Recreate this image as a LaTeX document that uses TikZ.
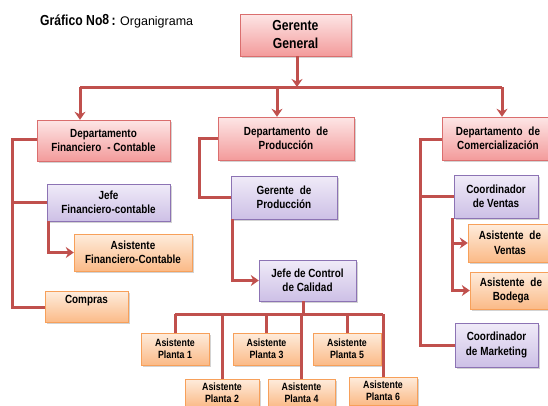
\documentclass[tikz,border=0pt]{standalone}
\usepackage{fontspec}
\setmainfont{Liberation Sans}
\newfontfamily\narrowfont{Liberation Sans}[FakeStretch=0.84]
\usepackage{tikz}
\usetikzlibrary{arrows.meta, shadows, positioning, calc}
\definecolor{LinkRot}{RGB}{192,80,77}
\definecolor{RosaTop}{RGB}{253,230,230}
\definecolor{RosaBot}{RGB}{243,155,155}
\definecolor{RosaRand}{RGB}{218,110,110}
\definecolor{LilaTop}{RGB}{240,235,248}
\definecolor{LilaBot}{RGB}{205,192,230}
\definecolor{LilaRand}{RGB}{140,115,180}
\definecolor{OrangeTop}{RGB}{254,236,220}
\definecolor{OrangeBot}{RGB}{251,186,135}
\definecolor{OrangeRand}{RGB}{247,160,90}

\begin{document}
\begin{tikzpicture}[x=1pt, y=-1pt,
    box/.style={align=center, inner sep=1pt, font=\narrowfont\bfseries\fontsize{11.8}{14.5}\selectfont,
                drop shadow={opacity=0.35, shadow xshift=1.5pt, shadow yshift=-1.5pt}},
    depbox/.style={box, draw=RosaRand, top color=RosaTop, bottom color=RosaBot},
    lilabox/.style={box, draw=LilaRand, top color=LilaTop, bottom color=LilaBot},
    asisbox/.style={box, draw=OrangeRand, top color=OrangeTop, bottom color=OrangeBot},
    plantabox/.style={asisbox, minimum height=28pt, font=\narrowfont\bfseries\fontsize{10.5}{12}\selectfont},
    link/.style={draw=LinkRot, line width=3pt},
    pfeil/.style={link, -{Stealth[length=8pt, width=11pt]}}]
    \useasboundingbox (0,0) rectangle (548,405);

    % Titel
    \node[anchor=west, inner sep=0pt] (titel) at (40,21)
        {\narrowfont\fontsize{14.5}{16}\selectfont\bfseries Gráfico No\raisebox{1.5pt}{8}\,:
         \normalfont\fontsize{12.5}{15}\selectfont Organigrama};

    % Ebene 1 und 2
    \node[depbox, minimum width=111pt, minimum height=42pt, font=\narrowfont\bfseries\fontsize{14.5}{18}\selectfont] (GG) at (295.5,35) {Gerente\\General};
    \node[depbox, minimum width=133pt, minimum height=41pt] (DF) at (103.5,140.5) {Departamento\\Financiero\enspace- Contable};
    \node[depbox, minimum width=136pt, minimum height=43pt] (DP) at (286,138.5) {Departamento\enspace de\\Producción};
    \node[depbox, minimum width=112pt, minimum height=43pt] (DC) at (498,138.5) {Departamento\enspace de\\Comercialización};

    % Finanzen
    \node[lilabox, minimum width=123pt, minimum height=37pt] (JF) at (108.5,202.5) {Jefe\\Financiero-contable};
    \node[asisbox, minimum width=118pt, minimum height=37pt] (AF) at (133,252.5) {Asistente\\Financiero-Contable};
    \node[asisbox, minimum width=83pt, minimum height=31pt] (CO) at (86.5,307) {Compras\\\phantom{x}};

    % Produktion
    \node[lilabox, minimum width=106pt, minimum height=43pt] (GP) at (284,197.5) {Gerente\enspace de\\Producción};
    \node[lilabox, minimum width=97pt, minimum height=41pt] (JC) at (307.5,280.5) {Jefe de Control\\de Calidad};
    \node[plantabox, minimum width=68pt, minimum height=32pt] (AP1) at (175,349) {Asistente\\Planta 1};
    \node[plantabox, minimum width=74pt] (AP2) at (222,393) {Asistente\\Planta 2};
    \node[plantabox, minimum width=67pt, minimum height=32pt] (AP3) at (266.5,349) {Asistente\\Planta 3};
    \node[plantabox, minimum width=67pt] (AP4) at (301.5,393) {Asistente\\Planta 4};
    \node[plantabox, minimum width=68pt, minimum height=32pt] (AP5) at (347,349) {Asistente\\Planta 5};
    \node[plantabox, minimum width=68pt] (AP6) at (383,391) {Asistente\\Planta 6};

    % Vertrieb
    \node[lilabox, minimum width=84pt, minimum height=43pt] (CV) at (496,196.5) {Coordinador\\de Ventas};
    \node[asisbox, minimum width=84pt, minimum height=38pt] (AV) at (510,243) {Asistente\enspace de\\Ventas};
    \node[asisbox, minimum width=82pt, minimum height=37pt] (AB) at (511,290.5) {Asistente\enspace de\\Bodega};
    \node[lilabox, minimum width=83pt, minimum height=44pt] (CM) at (496.5,345) {Coordinador\\de Marketing};

    % Verbindungen
    \coordinate (bus)  at (297,87);
    \coordinate (busL) at (80,87);
    \coordinate (busR) at (502,87);
    \draw[pfeil] (GG.south -| bus) -- (bus);
    \draw[link]  (busL) -- (busR);
    \draw[pfeil] (busL) -- (busL |- DF.north);
    \draw[pfeil] (busL -| 277,0) -- (277,0 |- DP.north);
    \draw[pfeil] (busR) -- (busR |- DC.north);

    \coordinate (fl) at (12,139);
    \draw[link] (DF.west |- fl) -- (fl) |- (CO.west);
    \draw[link] (fl) |- (JF.west);
    \draw[pfeil] ([xshift=1.5pt]JF.south west) |- (AF.west);

    \coordinate (pl) at (199,138.5);
    \draw[link] (DP.west) -- (pl) |- (GP.west);
    \draw[pfeil] ([xshift=1.5pt]GP.south west) |- (JC.west);

    \coordinate (pbus) at (303,314);
    \draw[link] (JC.south -| pbus) -- (pbus);
    \draw[link] (AP1.north |- pbus) -- (AP6.north |- pbus);
    \foreach \n in {AP1, AP2, AP3, AP4, AP5, AP6}
        \draw[link] (\n.north |- pbus) -- (\n.north);

    \coordinate (cl) at (420,139);
    \draw[link] (DC.west |- cl) -- (cl) |- (CM.west);
    \draw[link] (cl) |- (CV.west);
    \draw[pfeil] ([xshift=-1pt]CV.south west) |- (AV.west);
    \draw[pfeil] ([xshift=-1pt]CV.south west) |- (AB.west);
\end{tikzpicture}
\end{document}
